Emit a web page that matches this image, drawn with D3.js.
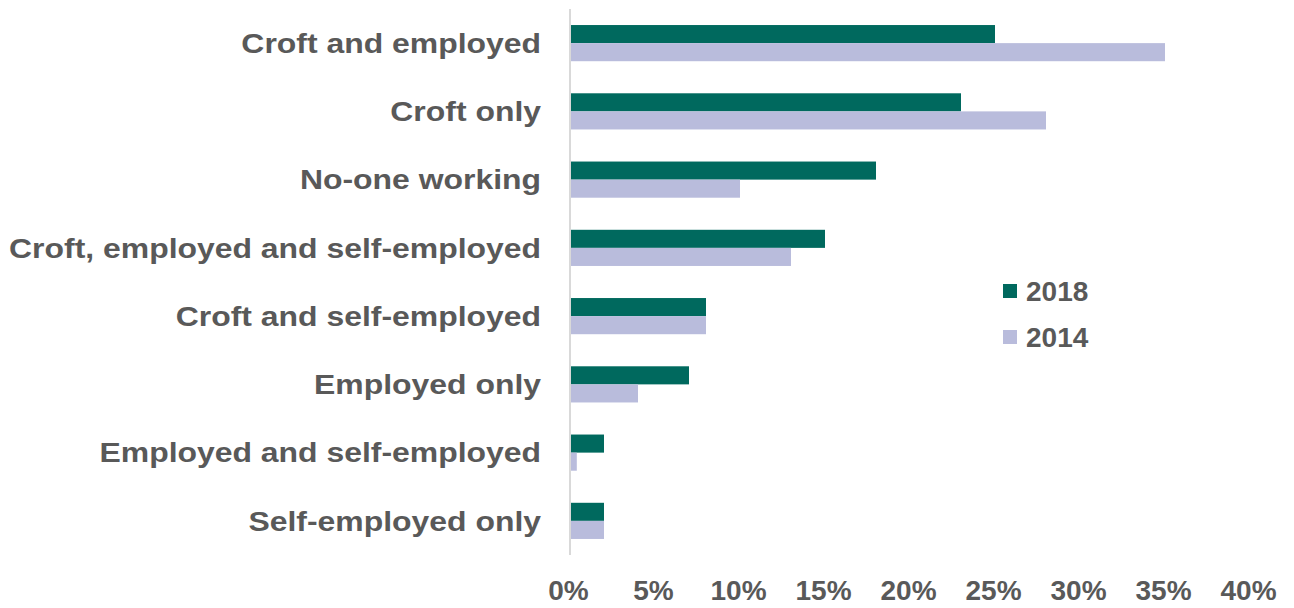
<!DOCTYPE html>
<html>
<head>
<meta charset="utf-8">
<script src="https://cdn.jsdelivr.net/npm/d3@7"></script>
<style>
  html, body { margin: 0; padding: 0; background: #fff; }
  svg text { font-family: "Liberation Sans", Arial, sans-serif; font-weight: bold; fill: #595959; }
</style>
</head>
<body>
<svg id="chart" width="1294" height="608"></svg>
<script>
// Household work combinations, share of crofting households
const categories = [
  "Croft and employed",
  "Croft only",
  "No-one working",
  "Croft, employed and self-employed",
  "Croft and self-employed",
  "Employed only",
  "Employed and self-employed",
  "Self-employed only"
];
const seriesNames = ["2018", "2014"];
const values2018 = [25, 23, 18, 15, 8, 7, 2, 2];
const values2014 = [35, 28, 10, 13, 8, 4, 0.4, 2];
const tickValues = [0, 5, 10, 15, 20, 25, 30, 35, 40];
const colors = { "2018": "#00695E", "2014": "#B9BCDC" };

const svg = d3.select("#chart");
const x0 = 570, x1 = 1250, yTop = 9, yBottom = 555;

const x = d3.scaleLinear().domain([0, 40]).range([x0, x1]);
const y = d3.scaleBand().domain(categories).range([yTop, yBottom]).paddingInner(0.47).paddingOuter(0.235);
const ySub = d3.scaleBand().domain(seriesNames).range([0, y.bandwidth()]);

const rows = categories.map((c, i) => ({ cat: c, "2018": values2018[i], "2014": values2014[i] }));

// Bars
const g = svg.append("g");
rows.forEach(r => {
  seriesNames.forEach(s => {
    g.append("rect")
      .attr("x", x(0) + 1)
      .attr("y", y(r.cat) + ySub(s))
      .attr("width", Math.max(0, x(r[s]) - x(0) - 1))
      .attr("height", ySub.bandwidth())
      .attr("fill", colors[s]);
  });
});

// Vertical axis line
svg.append("line")
  .attr("x1", x(0)).attr("x2", x(0))
  .attr("y1", yTop).attr("y2", yBottom)
  .attr("stroke", "#D9D9D9").attr("stroke-width", 2);

// Category labels (wide-set bold text)
const stretch = 1.14;
const yAxis = d3.axisLeft(y).tickSize(0).tickPadding(0);
const yg = svg.append("g").attr("transform", `translate(${x(0)},0)`).call(yAxis);
yg.select(".domain").remove();
yg.selectAll("text")
  .style("font-size", "28px")
  .attr("fill", "#595959")
  .attr("dy", "0.35em")
  .attr("x", -29 / stretch)
  .attr("transform", `scale(${stretch},1)`);

// Percentage tick labels
const xAxis = d3.axisBottom(x).tickValues(tickValues).tickFormat(d => d + "%").tickSize(0).tickPadding(0);
const xg = svg.append("g").attr("transform", `translate(-2,590)`).call(xAxis);
xg.select(".domain").remove();
xg.selectAll("text").style("font-size", "28px").attr("dy", "0.35em").attr("y", 0).attr("fill", "#595959");

// Legend
const legend = svg.append("g").attr("transform", "translate(1003,291)");
seriesNames.forEach((s, i) => {
  const row = legend.append("g").attr("transform", `translate(0,${i * 46})`);
  row.append("rect").attr("x", 0).attr("y", -7).attr("width", 14).attr("height", 14).attr("fill", colors[s]);
  row.append("text").attr("x", 23).attr("y", 0).attr("dy", "0.35em").style("font-size", "28px").text(s);
});
</script>
</body>
</html>
